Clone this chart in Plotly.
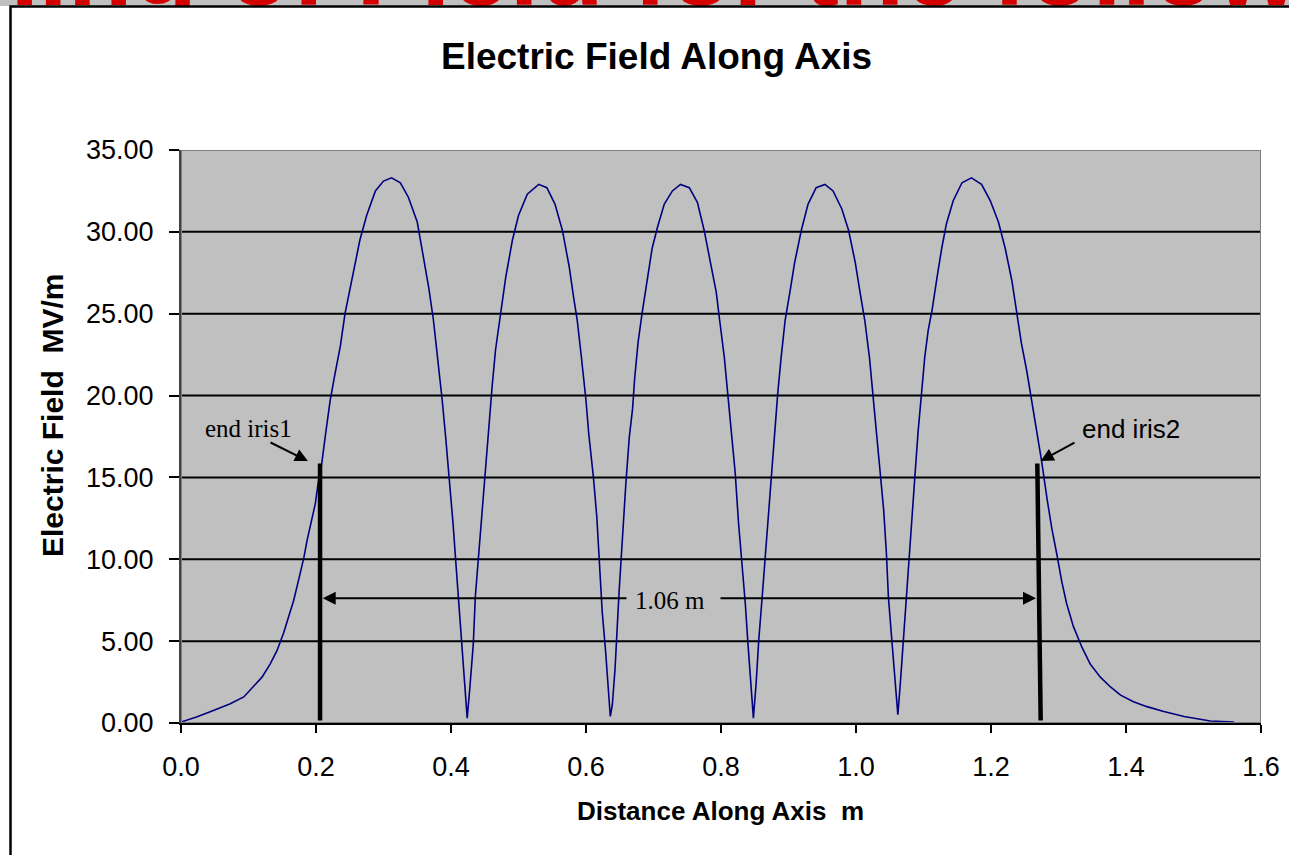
import plotly.graph_objects as go

# ---------------- data ----------------
distance_m = [0.000, 0.023, 0.048, 0.073, 0.093, 0.107, 0.120, 0.132, 0.142, 0.152, 0.159, 0.167, 0.174,
              0.182, 0.187, 0.192, 0.199, 0.203, 0.209, 0.214, 0.221, 0.228, 0.236, 0.243, 0.253, 0.265,
              0.275, 0.288, 0.300, 0.312, 0.325, 0.337, 0.350, 0.359, 0.367, 0.374, 0.380, 0.387, 0.392,
              0.398, 0.403, 0.407, 0.411, 0.416, 0.420, 0.424, 0.428, 0.433, 0.436, 0.441, 0.446, 0.451,
              0.456, 0.461, 0.466, 0.473, 0.481, 0.491, 0.500, 0.513, 0.530, 0.542, 0.554, 0.565, 0.575,
              0.582, 0.587, 0.593, 0.600, 0.604, 0.611, 0.616, 0.620, 0.624, 0.629, 0.633, 0.636, 0.639,
              0.643, 0.649, 0.654, 0.659, 0.664, 0.669, 0.672, 0.677, 0.683, 0.691, 0.698, 0.706, 0.716,
              0.728, 0.740, 0.753, 0.765, 0.775, 0.785, 0.793, 0.798, 0.805, 0.810, 0.815, 0.821, 0.826,
              0.831, 0.836, 0.840, 0.844, 0.848, 0.852, 0.856, 0.861, 0.866, 0.871, 0.876, 0.879, 0.884,
              0.889, 0.895, 0.902, 0.909, 0.919, 0.929, 0.941, 0.954, 0.966, 0.979, 0.989, 0.999, 1.006,
              1.013, 1.020, 1.025, 1.030, 1.036, 1.041, 1.045, 1.048, 1.053, 1.058, 1.062, 1.066, 1.070,
              1.074, 1.079, 1.084, 1.088, 1.092, 1.097, 1.102, 1.107, 1.113, 1.120, 1.127, 1.134, 1.144,
              1.157, 1.171, 1.186, 1.199, 1.211, 1.221, 1.231, 1.238, 1.245, 1.253, 1.260, 1.268, 1.275,
              1.283, 1.290, 1.298, 1.305, 1.312, 1.322, 1.335, 1.347, 1.362, 1.377, 1.392, 1.411, 1.431,
              1.456, 1.486, 1.525, 1.560]
field_mv_m = [0.06, 0.37, 0.77, 1.18, 1.59, 2.2, 2.8, 3.6, 4.4, 5.5, 6.5, 7.5, 8.7,
              10.1, 11.2, 12.2, 13.4, 14.6, 16.0, 17.6, 19.7, 21.3, 23.0, 25.0, 27.0, 29.5,
              31.0, 32.5, 33.1, 33.3, 33.0, 32.1, 30.6, 28.6, 26.6, 24.6, 22.4, 19.7, 17.5,
              14.8, 12.2, 9.9, 7.7, 5.1, 2.8, 0.3, 2.2, 4.8, 7.7, 10.4, 13.0, 15.7,
              18.1, 20.6, 22.8, 25.0, 27.2, 29.5, 31.0, 32.3, 32.9, 32.7, 31.7, 30.1, 27.9,
              25.9, 24.6, 22.4, 19.7, 17.7, 15.0, 12.6, 9.9, 6.8, 4.4, 2.0, 0.4, 1.1,
              3.3, 8.0, 11.5, 14.6, 17.4, 19.2, 21.0, 23.2, 25.0, 27.2, 29.0, 30.3, 31.7,
              32.5, 32.9, 32.7, 31.8, 30.1, 28.1, 26.3, 24.6, 22.3, 20.1, 17.9, 15.3, 12.2,
              9.9, 7.3, 4.8, 2.4, 0.3, 2.4, 5.1, 7.7, 10.4, 13.0, 15.7, 17.9, 20.1,
              22.3, 24.6, 26.3, 28.1, 30.1, 31.7, 32.7, 32.9, 32.5, 31.4, 30.1, 28.1, 26.3,
              24.6, 22.3, 20.1, 17.9, 15.3, 13.0, 10.4, 7.7, 5.1, 2.4, 0.5, 2.6, 5.0,
              7.7, 10.6, 13.4, 15.5, 17.8, 20.0, 22.4, 24.0, 25.3, 27.2, 29.0, 30.5, 31.9,
              33.0, 33.3, 32.9, 31.9, 30.6, 29.0, 27.0, 25.2, 23.2, 21.5, 19.7, 17.9, 16.0,
              13.7, 11.9, 10.2, 8.6, 7.3, 5.9, 4.6, 3.6, 2.8, 2.2, 1.7, 1.3, 1.0,
              0.7, 0.4, 0.12, 0.06]

# iris marker lines (bottom, top)
iris1_x = [0.206, 0.206]
iris1_y = [0.15, 15.85]
iris2_x = [1.2736, 1.2686]
iris2_y = [0.15, 15.85]
iris_gap_m = "1.06 m"

x_ticks = [0.0, 0.2, 0.4, 0.6, 0.8, 1.0, 1.2, 1.4, 1.6]
y_ticks = [0, 5, 10, 15, 20, 25, 30, 35]
grid_levels = [5, 10, 15, 20, 25, 30]

chart_title = "Electric Field Along Axis"
x_title = "Distance Along Axis\u00a0 m"
y_title = "Electric Field\u00a0 MV/m"
slide_title = "Tuning of Field for the following"

SANS = "Liberation Sans, Arial, sans-serif"
SERIF = "Liberation Serif, Times New Roman, serif"

W, H = 1289, 855

def px(x):
    return x / W

def py(y):
    return (H - y) / H

fig = go.Figure()
# slide title peeking above the chart object (clipped by a thin strip subplot)
fig.add_trace(go.Scatter(x=[-148], y=[28], mode="text", text=[slide_title],
                         textposition="middle right", cliponaxis=True,
                         textfont=dict(family=SANS, size=106, color="#D40000", weight="bold"),
                         xaxis="x2", yaxis="y2", showlegend=False, hoverinfo="skip"))
fig.add_trace(go.Scatter(x=distance_m, y=field_mv_m, mode="lines",
                         line=dict(color="#000080", width=1.6), showlegend=False,
                         hoverinfo="x+y"))
fig.add_trace(go.Scatter(x=iris1_x, y=iris1_y, mode="lines",
                         line=dict(color="black", width=4.5), showlegend=False, hoverinfo="skip"))
fig.add_trace(go.Scatter(x=iris2_x, y=iris2_y, mode="lines",
                         line=dict(color="black", width=4.5), showlegend=False, hoverinfo="skip"))

shapes = []
for g in grid_levels:
    shapes.append(dict(type="line", xref="x", yref="y", x0=0, x1=1.6, y0=g, y1=g,
                       line=dict(color="black", width=2), layer="below"))
# plot area border (grey top/right)
shapes.append(dict(type="rect", xref="x", yref="y", x0=0, x1=1.6, y0=0, y1=35,
                   line=dict(color="#808080", width=2), layer="above"))
# outer chart frame
shapes.append(dict(type="rect", xref="paper", yref="paper", x0=px(10.5), x1=1.02, y0=-0.02, y1=py(6.5),
                   line=dict(color="black", width=2.5), layer="above"))

annotations = []
annotations.append(dict(text="<b>" + chart_title + "</b>", xref="paper", yref="paper",
                        x=px(656), y=py(57), xanchor="center", yanchor="middle", showarrow=False,
                        font=dict(family=SANS, size=37, color="black")))
annotations.append(dict(text="<b>" + x_title + "</b>", xref="paper", yref="paper",
                        x=px(720), y=py(811), xanchor="center", yanchor="middle", showarrow=False,
                        font=dict(family=SANS, size=26, color="black")))
annotations.append(dict(text="<b>" + y_title + "</b>", xref="paper", yref="paper",
                        x=px(52), y=py(416), xanchor="center", yanchor="middle", showarrow=False,
                        textangle=-90, font=dict(family=SANS, size=30, color="black")))
annotations.append(dict(text="end iris1", x=0.0993, y=17.96, xref="x", yref="y", showarrow=False,
                        font=dict(family=SERIF, size=25, color="black")))
annotations.append(dict(text="", x=0.1881, y=16.0, ax=0.1304, ay=17.18, xref="x", yref="y",
                        axref="x", ayref="y", showarrow=True, arrowhead=2, arrowsize=1.3,
                        arrowwidth=2, arrowcolor="black", standoff=0, startstandoff=0))
annotations.append(dict(text="end iris2", x=1.4074, y=17.96, xref="x", yref="y", showarrow=False,
                        font=dict(family=SANS, size=26, color="black")))
annotations.append(dict(text="", x=1.2736, y=16.0, ax=1.3259, ay=17.18, xref="x", yref="y",
                        axref="x", ayref="y", showarrow=True, arrowhead=2, arrowsize=1.3,
                        arrowwidth=2, arrowcolor="black", standoff=0, startstandoff=0))
annotations.append(dict(text="", x=0.2099, y=7.62, ax=0.6622, ay=7.62, xref="x", yref="y",
                        axref="x", ayref="y", showarrow=True, arrowhead=2, arrowsize=1.3,
                        arrowwidth=2, arrowcolor="black", standoff=0, startstandoff=0))
annotations.append(dict(text="", x=1.2667, y=7.62, ax=0.797, ay=7.62, xref="x", yref="y",
                        axref="x", ayref="y", showarrow=True, arrowhead=2, arrowsize=1.3,
                        arrowwidth=2, arrowcolor="black", standoff=0, startstandoff=0))
annotations.append(dict(text=iris_gap_m, x=0.7244, y=7.5, xref="x", yref="y", showarrow=False,
                        font=dict(family=SERIF, size=25, color="black")))

fig.update_layout(
    width=W, height=H, autosize=False,
    margin=dict(l=0, r=0, t=0, b=0, pad=0, autoexpand=False),
    paper_bgcolor="white", plot_bgcolor="#C0C0C0",
    shapes=shapes, annotations=annotations,
    showlegend=False,
    font=dict(family=SANS, color="black"),
    xaxis=dict(domain=[px(181), px(1261)], range=[0, 1.6], tickvals=x_ticks, tickformat=".1f",
               showgrid=False, zeroline=False, ticks="outside", ticklen=8, tickwidth=1.5,
               tickcolor="black", showline=True, linecolor="black", linewidth=2,
               tickfont=dict(family=SANS, size=27, color="black"), ticklabelstandoff=11,
               anchor="y", automargin=False),
    yaxis=dict(domain=[py(723), py(150)], range=[0, 35], tickvals=y_ticks, tickformat=".2f",
               showgrid=False, zeroline=False, ticks="outside", ticklen=10, tickwidth=1.5,
               tickcolor="black", showline=True, linecolor="#404040", linewidth=2,
               tickfont=dict(family=SANS, size=27, color="black"), ticklabelstandoff=10,
               anchor="x", automargin=False),
    xaxis2=dict(domain=[0, 1], range=[0, W], visible=False, anchor="y2", fixedrange=True),
    yaxis2=dict(domain=[py(6), 1], range=[0, 6], visible=False, anchor="x2", fixedrange=True),
)

fig.write_html("out.html", config={"displayModeBar": False},
               post_script="document.body.style.margin='0px';document.body.style.overflow='hidden';")
